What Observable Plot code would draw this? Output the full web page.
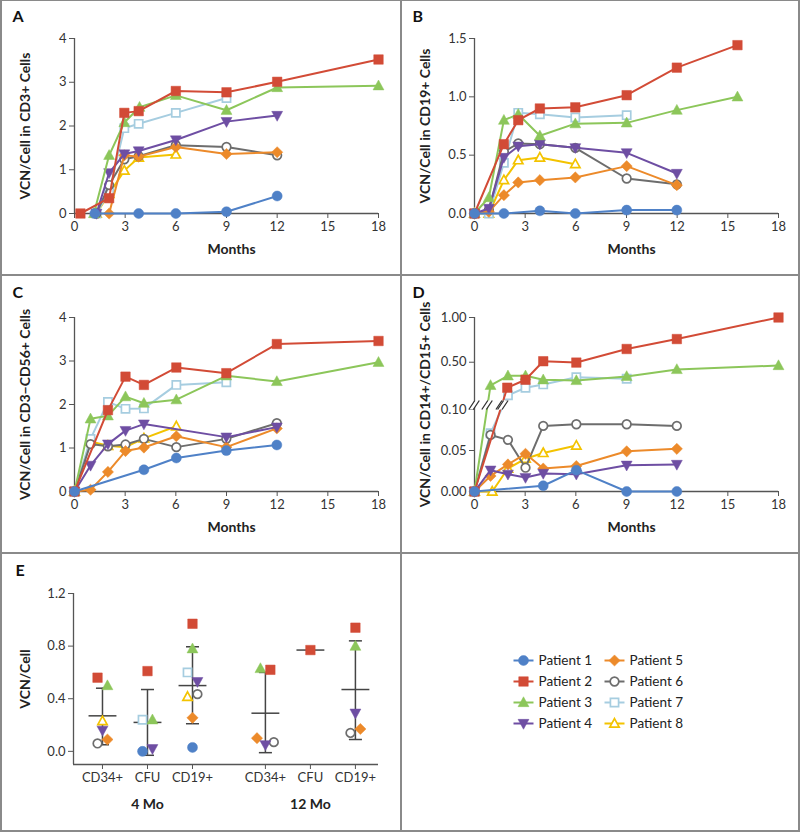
<!DOCTYPE html>
<html><head><meta charset="utf-8">
<script src="https://cdn.jsdelivr.net/npm/d3@7"></script>
<script src="https://cdn.jsdelivr.net/npm/@observablehq/plot@0.6"></script>
<style>
body{margin:0;background:#fff;}
#fig{position:relative;width:800px;height:832px;overflow:hidden;background:#fff;}
.panel{position:absolute;}
.bd{position:absolute;background:#8a8a8a;}
</style></head><body><div id="fig"></div>
<script>
// ---------- data ----------
const patients = ["Patient 1","Patient 2","Patient 3","Patient 4","Patient 5","Patient 6","Patient 7","Patient 8"];
const patientColors = ["#4f81c7","#d24b36","#8cc65a","#6e4ea3","#ec8a2a","#6d6d6d","#a6cde0","#f3c300"];
const patientSymbols = ["circle","square","triangle","triangleDown","diamond","circle","square","triangle"];
const patientOpen = [false,false,false,false,false,true,true,true];
const monthTicks = [0,3,6,9,12,15,18];

// [patient, month, VCN/cell]
const cd3Rows = [
 [1,1.2,0],[1,3.8,0],[1,6,0],[1,9,0.04],[1,12,0.40],
 [2,0.35,0],[2,2.05,0.35],[2,2.95,2.3],[2,3.8,2.34],[2,6,2.8],[2,9,2.77],[2,12,3.01],[2,18,3.52],
 [3,1.15,0],[3,2.05,1.33],[3,2.95,2.08],[3,3.85,2.43],[3,6,2.7],[3,9,2.36],[3,12,2.88],[3,18,2.92],
 [4,1.3,0],[4,2.05,0.93],[4,2.95,1.36],[4,3.8,1.43],[4,6,1.68],[4,9,2.1],[4,12,2.24],
 [5,2.05,0],[5,2.95,1.33],[5,3.8,1.3],[5,6,1.52],[5,9,1.36],[5,12,1.4],
 [6,1.3,0],[6,2.05,0.65],[6,2.95,1.24],[6,3.8,1.31],[6,6,1.56],[6,9,1.52],[6,12,1.33],
 [7,1.3,0],[7,2.05,0.5],[7,2.95,1.95],[7,3.8,2.05],[7,6,2.3],[7,9,2.64],
 [8,1.3,0],[8,2.05,0.45],[8,2.95,0.98],[8,3.8,1.28],[8,6,1.35]
];
const cd19Rows = [
 [1,0,0],[1,1.74,0],[1,3.87,0.023],[1,5.97,0],[1,9.01,0.029],[1,11.98,0.029],
 [2,0,0],[2,1.74,0.594],[2,2.59,0.80],[2,3.87,0.90],[2,5.97,0.91],[2,9.01,1.014],[2,11.98,1.25],[2,15.57,1.443],
 [3,0,0],[3,0.85,0.137],[3,1.74,0.80],[3,2.59,0.85],[3,3.87,0.666],[3,5.97,0.77],[3,9.01,0.777],[3,11.98,0.886],[3,15.57,1.0],
 [4,0,0],[4,0.85,0.043],[4,1.74,0.48],[4,2.59,0.577],[4,3.87,0.594],[4,5.97,0.563],[4,9.01,0.52],[4,11.98,0.343],
 [5,0,0],[5,0.85,0.014],[5,1.74,0.157],[5,2.59,0.266],[5,3.87,0.286],[5,5.97,0.309],[5,9.01,0.406],[5,11.98,0.243],
 [6,0,0],[6,0.85,0.03],[6,1.74,0.53],[6,2.59,0.60],[6,3.87,0.594],[6,5.97,0.563],[6,9.01,0.30],[6,11.98,0.25],
 [7,0,0],[7,0.85,0],[7,1.74,0.434],[7,2.59,0.863],[7,3.87,0.851],[7,5.97,0.823],[7,9.01,0.843],
 [8,0,0],[8,0.85,0],[8,1.74,0.286],[8,2.59,0.457],[8,3.87,0.48],[8,5.97,0.423]
];
const cd56Rows = [
 [1,0,0],[1,4.11,0.50],[1,6.03,0.77],[1,8.99,0.94],[1,11.98,1.07],
 [2,0,0],[2,1.98,1.87],[2,3.02,2.64],[2,4.11,2.45],[2,6.03,2.85],[2,8.99,2.72],[2,11.98,3.39],[2,18,3.46],
 [3,0,0],[3,0.95,1.67],[3,1.98,1.74],[3,3.02,2.18],[3,4.11,2.03],[3,6.03,2.11],[3,8.99,2.66],[3,11.98,2.53],[3,18,2.97],
 [4,0,0],[4,0.95,0.60],[4,1.98,1.09],[4,3.02,1.40],[4,4.11,1.55],[4,8.99,1.25],[4,11.98,1.48],
 [5,0,0],[5,0.95,0.04],[5,1.98,0.45],[5,3.02,0.93],[5,4.11,1.01],[5,6.03,1.27],[5,8.99,1.02],[5,11.98,1.45],
 [6,0,0],[6,0.95,1.09],[6,1.98,1.04],[6,3.02,1.08],[6,4.11,1.21],[6,6.03,1.02],[6,8.99,1.21],[6,11.98,1.57],
 [7,0,0],[7,0.95,1.21],[7,1.98,2.06],[7,3.02,1.90],[7,4.11,1.91],[7,6.03,2.45],[7,8.99,2.51],
 [8,0,0],[8,0.95,1.15],[8,1.98,1.05],[8,3.02,1.02],[8,4.11,1.22],[8,6.03,1.50]
];
const cd14Rows = [
 [1,0,0],[1,4.07,0.007],[1,6.03,0.026],[1,9.01,0],[1,11.98,0],
 [2,0,0],[2,1.94,0.215],[2,3.02,0.304],[2,4.07,0.511],[2,6.03,0.496],[2,9.01,0.648],[2,11.98,0.759],[2,18,1.0],
 [3,0,0],[3,0.95,0.241],[3,1.98,0.348],[3,3.02,0.348],[3,4.07,0.304],[3,6.03,0.296],[3,9.01,0.341],[3,11.98,0.419],[3,18,0.463],
 [4,0,0],[4,0.95,0.026],[4,1.98,0.021],[4,3.02,0.017],[4,4.07,0.022],[4,6.03,0.021],[4,9.01,0.032],[4,11.98,0.033],
 [5,0,0],[5,0.95,0.019],[5,1.98,0.033],[5,3.02,0.046],[5,4.07,0.028],[5,6.03,0.031],[5,9.01,0.049],[5,11.98,0.052],
 [6,0,0],[6,0.95,0.069],[6,1.98,0.063],[6,3.02,0.029],[6,4.07,0.080],[6,6.03,0.082],[6,9.01,0.082],[6,11.98,0.080],
 [7,0,0],[7,0.95,0.071],[7,1.98,0.13],[7,3.02,0.215],[7,4.07,0.252],[7,6.03,0.333],[7,9.01,0.315],
 [8,0,0],[8,1.05,0],[8,1.98,0.028],[8,3.02,0.040],[8,4.07,0.047],[8,6.03,0.056]
];
const cd14Ticks = [0, 0.05, 0.10, 0.50, 1.00];
const cd14TickLabels = ["0.00","0.05","0.10","0.50","1.00"];

// Panel E
const eCategories = ["CD34+","CFU","CD19+","CD34+","CFU","CD19+"];
const eGroups = ["4 Mo","12 Mo"];
// [category index, patient, VCN/cell, side-by-side offset]
const eRows = [
 [0,2,0.56,-1],[0,3,0.50,1],[0,8,0.23,0],[0,4,0.16,0],[0,6,0.06,-1],[0,5,0.09,1],
 [1,2,0.61,0],[1,7,0.24,-1],[1,3,0.24,1],[1,1,0.0,-1],[1,4,0.02,1],
 [2,2,0.97,0],[2,3,0.78,0],[2,7,0.60,-1],[2,4,0.53,1],[2,8,0.415,-1],[2,6,0.435,1],[2,5,0.255,0],[2,1,0.03,0],
 [3,3,0.63,-1],[3,2,0.62,1],[3,5,0.10,-1.7],[3,4,0.05,0],[3,6,0.07,1.7],
 [4,2,0.77,0],
 [5,2,0.94,0],[5,3,0.80,0],[5,4,0.29,0],[5,6,0.14,-1],[5,5,0.17,1]
];
const eMean   = [0.27, 0.22, 0.50, 0.29, 0.77, 0.47];
const eSdHigh = [0.48, 0.47, 0.795, 0.60, null, 0.84];
const eSdLow  = [0.05, -0.03, 0.21, -0.01, null, 0.09];

// ---------- helpers ----------
const rad = s => Math.sqrt(s / Math.PI);
const symbols = {
  circle: {draw(c, s){ const r = rad(s); c.moveTo(r, 0); c.arc(0, 0, r, 0, 2*Math.PI); }},
  square: {draw(c, s){ const r = rad(s)*0.95; c.rect(-r, -r, 2*r, 2*r); }},
  triangle: {draw(c, s){ const r = rad(s)*1.15; c.moveTo(0, -r); c.lineTo(r*0.95, r*0.72); c.lineTo(-r*0.95, r*0.72); c.closePath(); }},
  triangleDown: {draw(c, s){ const r = rad(s)*1.15; c.moveTo(0, r); c.lineTo(r*0.95, -r*0.72); c.lineTo(-r*0.95, -r*0.72); c.closePath(); }},
  diamond: {draw(c, s){ const r = rad(s)*1.12; c.moveTo(0, -r); c.lineTo(r, 0); c.lineTo(0, r); c.lineTo(-r, 0); c.closePath(); }}
};
function dotOpts(i, xk, yk) {
  const c = patientColors[i], open = patientOpen[i];
  return {x: xk, y: yk, symbol: symbols[patientSymbols[i]], r: open ? 4.3 : 5,
          fill: open ? "white" : c, stroke: c, strokeWidth: open ? 1.7 : 0.5};
}
const baseStyle = {fontFamily: "Lato, 'Open Sans', sans-serif", fontSize: "13px", color: "#333", background: "transparent", overflow: "visible"};
const axisColor = "#555";

function letterMark(letter, left, centerY, mLeft, mTop) {
  return Plot.text([letter], {frameAnchor: "top-left", textAnchor: "start", lineAnchor: "middle",
    dx: left - mLeft, dy: centerY - mTop, fontSize: 16, fontWeight: "bold", fill: "#111"});
}
function yLabelMark(label, dx) {
  return Plot.text([label], {frameAnchor: "left", textAnchor: "middle", lineAnchor: "middle", dx, rotate: -90,
    fontSize: 14, fontWeight: "bold", fill: "#222"});
}

function linePanel({rows, yDomain, yTicks, yTickFormat, yLabel, letter, height, marginTop, tf = v => v, extra = []}) {
  const data = rows.map(([p, m, v]) => ({p, m, v: tf(v)}));
  const mL = 74;
  const marks = [
    Plot.ruleX([0], {y1: yDomain[0], y2: yDomain[1], stroke: axisColor, strokeWidth: 1.3}),
    Plot.ruleY([yDomain[0]], {x1: 0, x2: 18, stroke: axisColor, strokeWidth: 1.3}),
    Plot.axisX({ticks: monthTicks, tickSize: 5, tickPadding: 3, label: null, stroke: axisColor}),
    Plot.axisY({ticks: yTicks, tickSize: 5, tickPadding: 3, tickFormat: yTickFormat, label: null, stroke: axisColor})
  ];
  for (let i = 7; i >= 0; i--) {
    const r = data.filter(d => d.p === i + 1);
    marks.push(Plot.line(r, {x: "m", y: "v", stroke: patientColors[i], strokeWidth: 2}));
    marks.push(Plot.dot(r, dotOpts(i, "m", "v")));
  }
  marks.push(...extra.map(f => f(data)));
  marks.push(Plot.text(["Months"], {frameAnchor: "bottom", dy: 40, dx: 5, fontSize: 14, fontWeight: "bold", fill: "#222"}));
  marks.push(yLabelMark(yLabel, -49));
  marks.push(letterMark(letter, 12, 16, mL, marginTop));
  return Plot.plot({width: 400, height, marginLeft: mL, marginRight: 22, marginTop, marginBottom: 61,
    x: {domain: [0, 18]}, y: {domain: yDomain}, style: baseStyle, marks});
}

// piecewise (broken) axis for panel D, in pixel-like units
const dScale = v => v <= 0.1 ? v * 820 : 93.5 + (v - 0.1) * (80.5 / 0.9);
const breakLevel = 86;

function breakMark(data) {
  return (index, scales) => {
    const xs = [0];
    for (let p = 1; p <= 8; p++) {
      const r = data.filter(d => d.p === p);
      for (let k = 0; k < r.length - 1; k++) {
        const a = r[k], b = r[k + 1];
        if ((a.v - breakLevel) * (b.v - breakLevel) < 0)
          xs.push(a.m + (b.m - a.m) * (breakLevel - a.v) / (b.v - a.v));
      }
    }
    const g = d3.create("svg:g");
    const cy = scales.y(breakLevel);
    for (const m of xs) {
      const cx = scales.x(m) + 0.8;
      g.append("path").attr("d", `M${cx-6},${cy+4.5}L${cx},${cy-4.5}L${cx+4.5},${cy-4.5}L${cx-1.5},${cy+4.5}Z`).attr("fill", "white");
      g.append("path").attr("d", `M${cx-6},${cy+4.5}L${cx},${cy-4.5}M${cx-1.5},${cy+4.5}L${cx+4.5},${cy-4.5}`)
        .attr("stroke", "#333").attr("stroke-width", 1.3).attr("fill", "none");
    }
    return g.node();
  };
}

// ---------- build ----------
const fig = document.getElementById("fig");
function place(node, left, top) {
  const d = document.createElement("div");
  d.className = "panel"; d.style.left = left + "px"; d.style.top = top + "px";
  d.appendChild(node); fig.appendChild(d);
}

place(linePanel({rows: cd3Rows, yDomain: [0, 4], yTicks: [0,1,2,3,4], yTickFormat: d3.format("d"),
  yLabel: "VCN/Cell in CD3+ Cells", letter: "A", height: 274, marginTop: 38}), 0, 0);
place(linePanel({rows: cd19Rows, yDomain: [0, 1.5], yTicks: [0,0.5,1,1.5], yTickFormat: d3.format(".1f"),
  yLabel: "VCN/Cell in CD19+ Cells", letter: "B", height: 274, marginTop: 38}), 400, 0);
place(linePanel({rows: cd56Rows, yDomain: [0, 4], yTicks: [0,1,2,3,4], yTickFormat: d3.format("d"),
  yLabel: "VCN/Cell in CD3\u2212CD56+ Cells", letter: "C", height: 276, marginTop: 41}), 0, 276);
const dTickPos = cd14Ticks.map(dScale);
place(linePanel({rows: cd14Rows, yDomain: [0, dScale(1)], yTicks: dTickPos,
  yTickFormat: t => cd14TickLabels[dTickPos.findIndex(p => Math.abs(p - t) < 1e-6)],
  yLabel: "VCN/Cell in CD14+/CD15+ Cells", letter: "D", height: 276, marginTop: 41, tf: dScale,
  extra: [breakMark]}), 400, 276);

// Panel E
const ePos = eCategories.map((_, i) => i < 3 ? i : i + 0.62);
const eData = eRows.map(([c, p, v, s]) => ({x: ePos[c] + s * 0.11, v, p}));
const eStats = eMean.map((m, i) => ({x: ePos[i], m, lo: eSdLow[i], hi: eSdHigh[i]}));
const eSd = eStats.filter(d => d.hi != null);
const eX0 = -0.644, eX1 = 6.133, eY0 = -0.1;
const eMarks = [
  Plot.ruleX([eX0], {y1: eY0, y2: 1.2, stroke: axisColor, strokeWidth: 1.3}),
  Plot.ruleY([eY0], {x1: eX0, x2: eX1, stroke: axisColor, strokeWidth: 1.3}),
  Plot.axisY({ticks: [0, 0.4, 0.8, 1.2], tickFormat: d3.format(".1f"), tickSize: 5, tickPadding: 3, label: null, stroke: axisColor}),
  Plot.axisX({ticks: ePos, tickFormat: t => eCategories[ePos.findIndex(p => Math.abs(p - t) < 1e-9)], tickSize: 5, tickPadding: 3, label: null, stroke: axisColor}),
  Plot.ruleX(eSd, {x: "x", y1: "lo", y2: "hi", stroke: "#444", strokeWidth: 1.5}),
  Plot.link(eSd, {x1: d => d.x - 0.145, x2: d => d.x + 0.145, y1: "hi", y2: "hi", stroke: "#444", strokeWidth: 1.5}),
  Plot.link(eSd, {x1: d => d.x - 0.145, x2: d => d.x + 0.145, y1: "lo", y2: "lo", stroke: "#444", strokeWidth: 1.5}),
  Plot.link(eStats, {x1: d => d.x - 0.31, x2: d => d.x + 0.31, y1: "m", y2: "m", stroke: "#444", strokeWidth: 1.5})
];
for (let i = 7; i >= 0; i--) {
  eMarks.push(Plot.dot(eData.filter(d => d.p === i + 1), dotOpts(i, "x", "v")));
}
eMarks.push(Plot.text(eGroups, {x: [(ePos[0] + ePos[2]) / 2, (ePos[3] + ePos[5]) / 2], frameAnchor: "bottom", dy: 44,
  fontSize: 14, fontWeight: "bold", fill: "#222"}));
eMarks.push(yLabelMark("VCN/Cell", -48));
eMarks.push(letterMark("E", 15, 16, 73, 39));
place(Plot.plot({width: 400, height: 278, marginLeft: 73, marginRight: 22, marginTop: 39, marginBottom: 68,
  x: {domain: [eX0, eX1]}, y: {domain: [eY0, 1.2]}, style: baseStyle, marks: eMarks}), 0, 554);

// Legend panel
const legMarks = [];
patients.forEach((name, i) => {
  const lx = 123 + 91 * Math.floor(i / 4), ly = 106 + 21 * (i % 4);
  legMarks.push(Plot.link([name], {x1: lx - 10, x2: lx + 10, y1: ly, y2: ly, stroke: patientColors[i], strokeWidth: 2}));
  legMarks.push(Plot.dot([name], {...dotOpts(i, () => lx, () => ly)}));
  legMarks.push(Plot.text([name], {x: lx + 15, y: ly, textAnchor: "start", fontSize: 13.5, fill: "#222"}));
});
place(Plot.plot({width: 396, height: 276, margin: 0, x: {type: "identity", axis: null}, y: {type: "identity", axis: null},
  style: baseStyle, marks: legMarks}), 400, 554);

// frame & dividers
[[0,0,800,1],[0,0,2,832],[798,0,2,832],[0,830,800,2],[400,0,2,832],[0,274,800,2],[0,552,800,2]].forEach(([l,t,w,h]) => {
  const b = document.createElement("div"); b.className = "bd";
  Object.assign(b.style, {left: l+"px", top: t+"px", width: w+"px", height: h+"px"});
  fig.appendChild(b);
});
</script></body></html>
